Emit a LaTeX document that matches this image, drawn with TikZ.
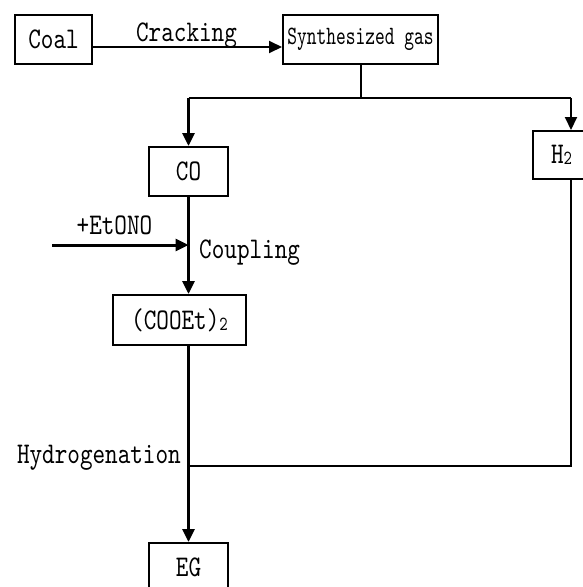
\documentclass[tikz,border=0pt]{standalone}
\usepackage{fontspec}
\usetikzlibrary{arrows.meta}
\newfontfamily\flowfont{lmmono10-regular.otf}[FakeStretch=0.8]
\newfontfamily\gasfont{lmmono10-regular.otf}[FakeStretch=0.7]
\newcommand{\chemsub}[1]{\raisebox{-1pt}{\fontsize{20}{20}\selectfont #1}}

\begin{document}
\begin{tikzpicture}[
    x=1pt, y=-1pt,
    every node/.style={font=\flowfont\fontsize{30}{30}\selectfont, inner sep=0pt},
    box/.style={rectangle, draw=black, line width=2pt, minimum height=49pt},
    line/.style={line width=2pt, black},
    arrow/.style={-{Triangle[length=13pt, width=12pt]}, line width=2pt, black},
    mainarrow/.style={-{Triangle[length=13pt, width=12pt]}, line width=3pt, black},
    note/.style={anchor=base},
]
\clip (0,0) rectangle (583,587);
\fill[white] (0,0) rectangle (583,587);

% Feed and gas
\node[box, minimum width=77pt] (coal) at (53.5,39) {Coal};
\node[box, minimum width=155pt, font=\gasfont\fontsize{26.5}{26.5}\selectfont] (syngas) at (360.5,39) {Synthesized gas};

% Intermediates
\node[box, minimum width=79pt] (co) at (188.5,171.5) {CO};
\node[box, minimum width=57pt, minimum height=48pt] (h2) at (561.5,155) {H\chemsub{2}};
\node[box, minimum width=133pt, minimum height=50pt] (ester) at (179.5,320) {(COOEt)\chemsub{2}};

% Product
\node[box, minimum width=79pt] (eg) at (188.5,567.5) {EG};

% Branch points
\coordinate (split) at (360.5,98);
\coordinate (rbus) at (571,98);
\coordinate (lbus) at (co.north |- split);
\coordinate (hjoin) at (188.5,466);
\coordinate (feed) at (52,245);

% Arrows
\draw[arrow] ([yshift=-8pt]coal.east) -- ([yshift=-8pt]syngas.west);
\draw[line] (syngas.south) -- (split);
\draw[line] (lbus) -- (rbus);
\draw[mainarrow] (lbus) -- (co.north);
\draw[arrow] (rbus) -- (rbus |- h2.north);
\draw[mainarrow] (co.south) -- (co.south |- ester.north);
\draw[mainarrow] (feed) -- (feed -| co.south);
\draw[line] (rbus |- h2.south) |- (hjoin);
\draw[mainarrow] (ester.south -| co.south) -- (eg.north);

% Step labels
\node[note] (cracking) at (186.5,41) {Cracking};
\node[note] (etono) at (114.5,234) {+EtONO};
\node[note, anchor=base west] (coupling) at (199,258) {Coupling};
\node[note, anchor=base east] (hydro) at (181,463) {Hydrogenation};

\end{tikzpicture}
\end{document}
